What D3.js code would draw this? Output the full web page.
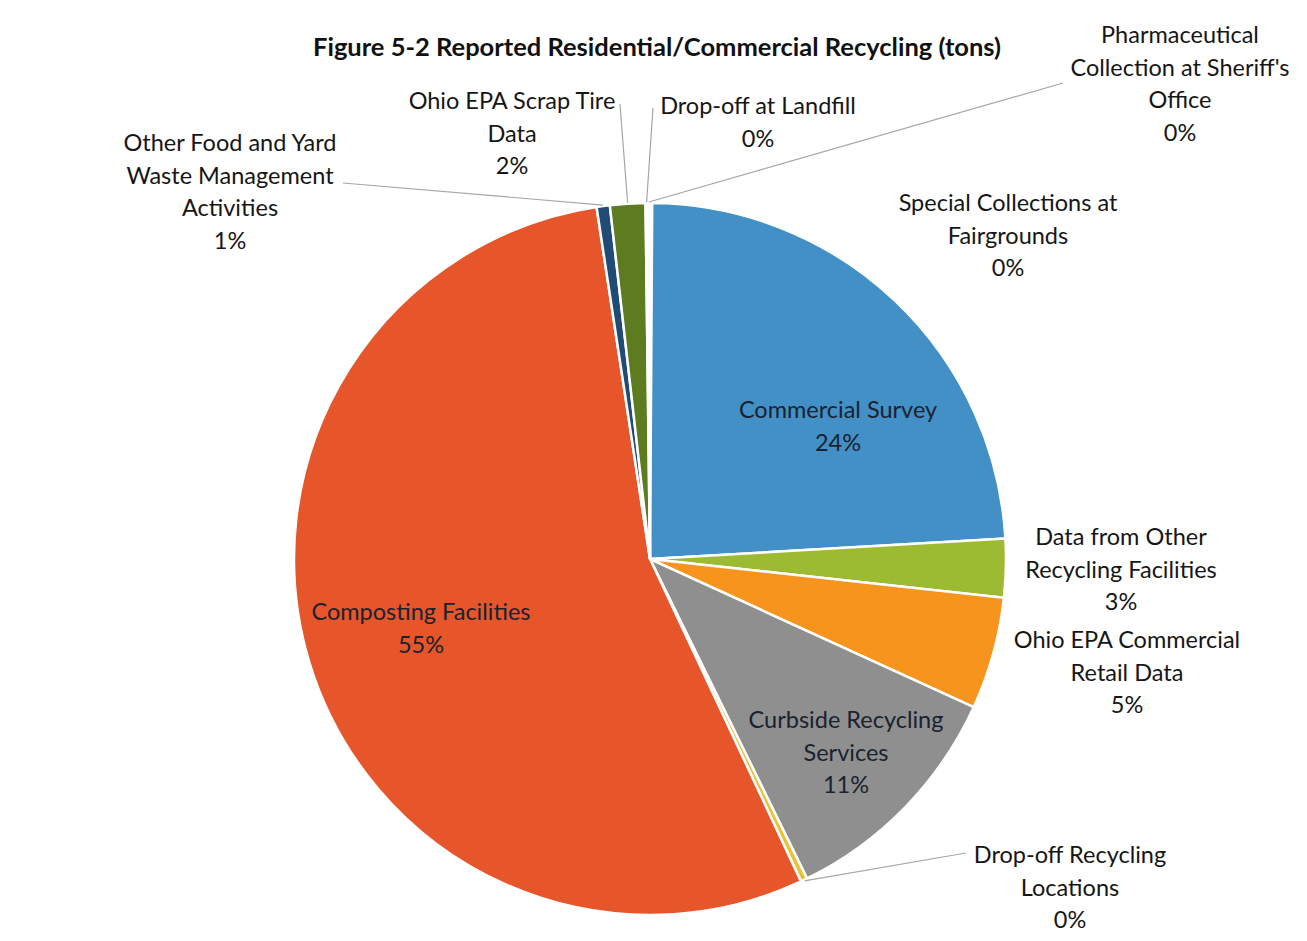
<!DOCTYPE html>
<html>
<head>
  <meta charset="utf-8">
  <title>pie-chart</title>
  <style>
    * { padding: 0; margin: 0; }
    html, body { width: 100%; height: 100%; background: #fff; }
    svg { display: block; }
    text { font-family: Lato, "Open Sans", sans-serif; fill: #161616; }
  </style>
</head>
<body>
  <svg id="svg"></svg>
  <script src="https://cdnjs.cloudflare.com/ajax/libs/d3/7.8.5/d3.min.js"></script>
  <script>
    // slice order runs clockwise from 12 o'clock, as in the source chart
    const categories = [
      "Special Collections at Fairgrounds",
      "Commercial Survey",
      "Data from Other Recycling Facilities",
      "Ohio EPA Commercial Retail Data",
      "Curbside Recycling Services",
      "Drop-off Recycling Locations",
      "Composting Facilities",
      "Other Food and Yard Waste Management Activities",
      "Ohio EPA Scrap Tire Data",
      "Drop-off at Landfill",
      "Pharmaceutical Collection at Sheriff's Office"
    ];
    // share of tons
    const values = [0.1, 24.0, 2.65, 5.1, 10.9, 0.3, 54.6, 0.6, 1.6, 0.1, 0.1];
    // how each label is broken into lines
    const labelLines = [
      ["Special Collections at", "Fairgrounds"],
      ["Commercial Survey"],
      ["Data from Other", "Recycling Facilities"],
      ["Ohio EPA Commercial", "Retail Data"],
      ["Curbside Recycling", "Services"],
      ["Drop-off Recycling", "Locations"],
      ["Composting Facilities"],
      ["Other Food and Yard", "Waste Management", "Activities"],
      ["Ohio EPA Scrap Tire", "Data"],
      ["Drop-off at Landfill"],
      ["Pharmaceutical", "Collection at Sheriff's", "Office"]
    ];
    const colors = ["#7f7f7f", "#4290c6", "#9cbb32", "#f7941d", "#8f8f8f", "#e8c33a",
      "#e7552a", "#1f4b75", "#5d7b1f", "#3a7cb5", "#aaaaaa"];
    const title = "Figure 5-2 Reported Residential/Commercial Recycling (tons)";

    const width = 1307, height = 941;
    const cx = 650, cy = 559, radius = 356;

    // label placement (top line centre) and leader line start, per slice
    const labelLayout = [
      { x: 1008, y: 203, line: null },
      { x: 838, y: 410, line: null, inside: true },
      { x: 1121, y: 537, line: null },
      { x: 1127, y: 640, line: null },
      { x: 846, y: 720, line: null, inside: true },
      { x: 1070, y: 855, line: [966, 853] },
      { x: 421, y: 612, line: null, inside: true },
      { x: 230, y: 143, line: [343, 183] },
      { x: 512, y: 101, line: [620, 104] },
      { x: 758, y: 106, line: [653, 108] },
      { x: 1180, y: 35, line: [1063, 83] }
    ];
    const lineH = 32.5;

    const svg = d3.select('#svg').attr('width', width).attr('height', height);

    svg.append('text')
      .attr('x', 657)
      .attr('y', 56)
      .attr('text-anchor', 'middle')
      .style('font-weight', 'bold')
      .style('font-size', '25.5px')
      .style('fill', '#111')
      .text(title);

    const total = d3.sum(values);
    const data = categories.map((c, i) => ({ name: c, value: values[i], i }));

    const pie = d3.pie().sort(null).value(d => d.value);
    const arcs = pie(data);
    const arc = d3.arc().innerRadius(0).outerRadius(radius);

    const g = svg.append('g').attr('transform', `translate(${cx},${cy})`);

    g.selectAll('path')
      .data(arcs)
      .enter()
      .append('path')
      .attr('d', arc)
      .attr('fill', d => colors[d.data.i])
      .attr('stroke', '#fff')
      .attr('stroke-width', 2.5);

    // leader lines from label to slice edge
    arcs.forEach(d => {
      const lay = labelLayout[d.data.i];
      if (!lay.line) return;
      const a = (d.startAngle + d.endAngle) / 2;
      const ex = cx + Math.sin(a) * (radius + 1);
      const ey = cy - Math.cos(a) * (radius + 1);
      svg.append('path')
        .attr('d', d3.line()([lay.line, [ex, ey]]))
        .attr('fill', 'none')
        .attr('stroke', '#a6a6a6')
        .attr('stroke-width', 1.2);
    });

    // data labels
    arcs.forEach(d => {
      const lay = labelLayout[d.data.i];
      const lines = labelLines[d.data.i].concat([Math.round(d.data.value / total * 100) + '%']);
      const t = svg.append('text')
        .attr('text-anchor', 'middle')
        .style('font-size', '23.5px')
        .style('fill', lay.inside ? '#1a2230' : '#161616');
      lines.forEach((s, k) => {
        t.append('tspan')
          .attr('x', lay.x)
          .attr('y', lay.y + k * lineH + 8)
          .text(s);
      });
    });
  </script>
</body>
</html>
